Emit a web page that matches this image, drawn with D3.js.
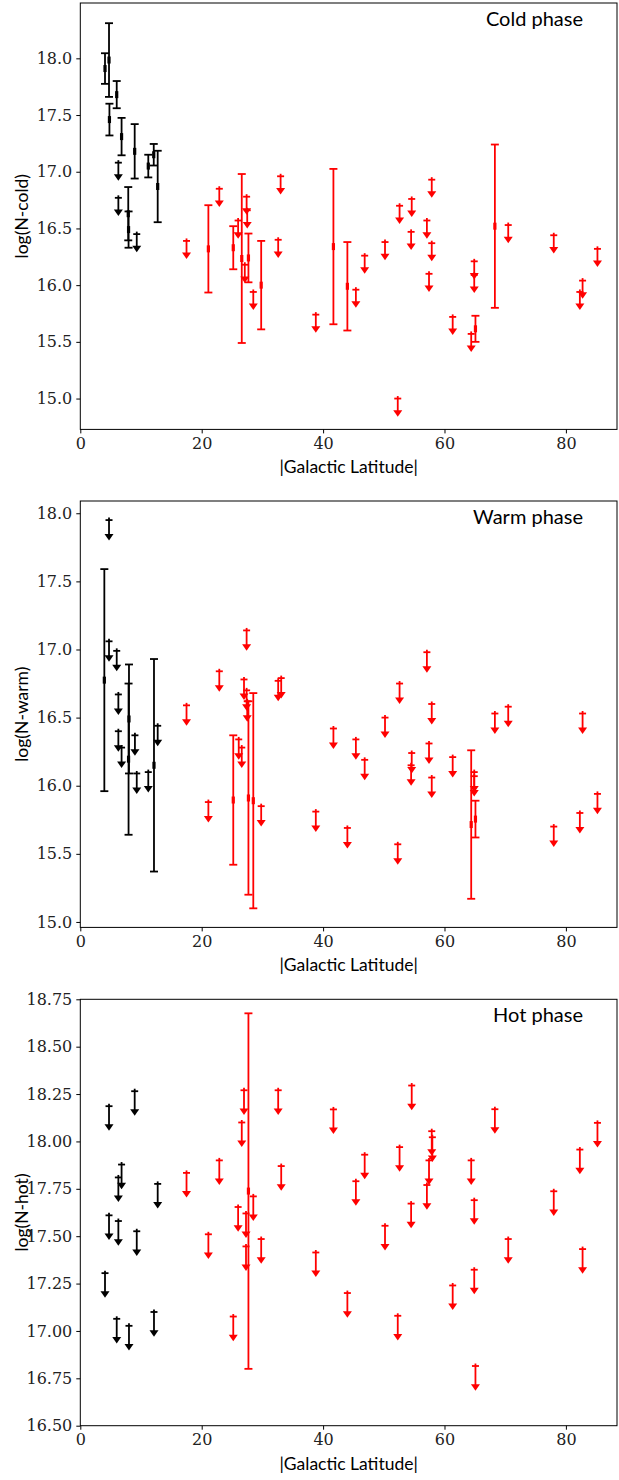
<!DOCTYPE html>
<html>
<head>
<meta charset="utf-8">
<script src="https://cdn.jsdelivr.net/npm/d3@7/dist/d3.min.js"></script>
<style>
body { margin: 0; background: #fff; }
.tick text { font-family: "DejaVu Serif", serif; font-size: 16px; fill: #222; }
.lab { font-family: Lato, "Open Sans", sans-serif; fill: #000; }
</style>
</head>
<body>
<div id="chart"></div>
<script>
// one row per sightline; err = half width of the error bar, null = upper limit
var coldLat = [4.07, 4.73, 4.8, 6.0, 6.27, 6.27, 6.8, 7.9, 7.95, 8.96, 9.3, 11.2, 12.1, 12.75,
    17.5, 21.1, 22.9, 25.2, 26.0, 26.6, 27.1, 27.4, 27.5, 27.7, 28.5, 29.8, 32.6, 33.0, 38.8,
    41.7, 44.0, 45.4, 46.85, 50.2, 52.3, 52.6, 54.5, 54.6, 57.1, 57.45, 57.9, 57.9, 61.35,
    64.4, 64.9, 64.9, 65.1, 68.3, 70.5, 78.0, 82.3, 82.75, 85.2];
var coldN = [17.91, 17.985, 17.46, 17.68, 17.08, 16.77, 17.31, 16.63, 16.49, 17.18, 16.45, 17.05, 17.15, 16.87,
    16.39, 16.32, 16.85, 16.33, 16.57, 16.235, 16.18, 16.78, 16.66, 16.24, 15.94, 16.0, 16.40, 16.96, 15.74,
    16.34, 15.99, 15.96, 16.26, 16.38, 15.0, 16.70, 16.47, 16.76, 16.57, 16.10, 16.93, 16.37, 15.72,
    15.57, 16.21, 16.09, 15.615, 16.52, 16.53, 16.44, 15.94, 16.04, 16.32];
var coldErr = [0.135, 0.325, 0.14, 0.12, null, null, 0.165, 0.235, 0.16, 0.24, null, 0.10, 0.095, 0.315,
    null, 0.385, null, 0.19, null, 0.745, null, null, null, 0.215, null, 0.39, null, null, null,
    0.685, 0.39, null, null, null, null, null, null, null, null, null, null, null, null,
    null, null, null, 0.115, 0.72, null, null, null, null, null];

var warmLat = [3.96, 4.73, 4.73, 6.0, 6.27, 6.27, 6.8, 8.02, 7.95, 9.0, 9.3, 11.2, 12.14, 12.75,
    17.5, 21.1, 22.9, 25.2, 26.1, 26.6, 26.97, 27.4, 27.4, 27.5, 27.7, 28.5, 29.8, 32.6, 33.1,
    38.8, 41.7, 44.0, 45.4, 46.85, 50.2, 52.3, 52.6, 54.5, 54.6, 57.1, 57.45, 57.9, 57.9,
    61.35, 64.4, 64.9, 64.9, 65.1, 68.3, 70.5, 78.0, 82.3, 82.75, 85.2];
var warmN = [16.775, 17.95, 17.06, 16.99, 16.67, 16.40, 16.28, 16.49, 16.195, 16.37, 16.09, 16.10, 16.15, 16.44,
    16.59, 15.88, 16.84, 15.895, 16.34, 16.28, 16.78, 17.14, 16.70, 16.62, 15.91, 15.89, 15.85, 16.77, 16.79,
    15.81, 16.42, 15.69, 16.34, 16.19, 16.50, 15.57, 16.75, 16.15, 16.24, 16.98, 16.31, 16.60, 16.06,
    16.21, 15.715, 16.10, 16.07, 15.755, 16.53, 16.58, 15.70, 15.80, 16.53, 15.94];
var warmErr = [0.815, null, null, null, null, null, null, 0.40, 0.555, null, null, null, 0.78, null,
    null, null, null, 0.475, null, null, null, null, null, null, 0.71, 0.79, null, null, null,
    null, null, null, null, null, null, null, null, null, null, null, null, null, null,
    null, 0.545, null, null, 0.135, null, null, null, null, null, null];

var hotLat = [4.07, 4.73, 4.73, 6.0, 6.27, 6.27, 6.8, 8.02, 8.96, 9.3, 12.14, 12.75,
    17.5, 21.1, 22.9, 25.2, 26.0, 26.6, 26.97, 27.3, 27.3, 27.7, 28.5, 29.8, 32.6, 33.1,
    38.8, 41.7, 44.0, 45.4, 46.85, 50.2, 52.3, 52.6, 54.5, 54.6, 57.1, 57.45, 57.9, 58.0,
    61.35, 64.4, 64.9, 64.9, 65.1, 68.3, 70.5, 78.0, 82.3, 82.75, 85.2];
var hotN = [17.305, 18.186, 17.61, 17.064, 17.81, 17.58, 17.878, 17.027, 18.265, 17.526, 17.10, 17.776,
    17.834, 17.51, 17.90, 17.076, 17.654, 18.10, 18.27, 17.62, 17.446, 17.738, 17.71, 17.485, 18.27, 17.87,
    17.414, 18.169, 17.20, 17.79, 17.93, 17.555, 17.08, 17.97, 17.672, 18.295, 17.77, 17.90, 18.054, 18.022,
    17.24, 17.90, 17.69, 17.323, 16.815, 18.17, 17.485, 17.737, 17.957, 17.432, 18.098];
var hotErr = [null, null, null, null, null, null, null, null, null, null, null, null,
    null, null, null, null, null, null, null, null, null, 0.938, null, null, null, null,
    null, null, null, null, null, null, null, null, null, null, null, null, null, null,
    null, null, null, null, null, null, null, null, null, null, null];

var xTicks = [0, 20, 40, 60, 80];
var coldTicks = [15.0, 15.5, 16.0, 16.5, 17.0, 17.5, 18.0];
var warmTicks = [15.0, 15.5, 16.0, 16.5, 17.0, 17.5, 18.0];
var hotTicks = [16.50, 16.75, 17.00, 17.25, 17.50, 17.75, 18.00, 18.25, 18.50, 18.75];

var panels = [
    {lat: coldLat, n: coldN, err: coldErr, ticks: coldTicks, fmt: '.1f', dom: [14.728, 18.488],
     top: 3, ylab: 'log(N-cold)', title: 'Cold phase', arrow: 0.16},
    {lat: warmLat, n: warmN, err: warmErr, ticks: warmTicks, fmt: '.1f', dom: [14.96, 18.09],
     top: 501, ylab: 'log(N-warm)', title: 'Warm phase', arrow: 0.15},
    {lat: hotLat, n: hotN, err: hotErr, ticks: hotTicks, fmt: '.2f', dom: [16.5, 18.75],
     top: 999.3, ylab: 'log(N-hot)', title: 'Hot phase', arrow: 0.13}
];

var W = 619, H = 1480;
var left = 80.3, right = 617, ph = 426.4;

var svg = d3.select('#chart').append('svg')
    .attr('width', W)
    .attr('height', H);

var x = d3.scaleLinear().domain([0, 88.42]).range([left, right]);

panels.forEach(function(p){
    var y = d3.scaleLinear().domain(p.dom).range([p.top + ph, p.top]);
    var g = svg.append('g');

    var rows = p.lat.map(function(d, i){
        return {lat: d, n: p.n[i], err: p.err[i]};
    });
    var col = function(d){ return d.lat < 15 ? '#000' : '#ff0000'; };

    // detections: error bar with caps and a small marker
    var bars = g.selectAll('.bar')
        .data(rows.filter(function(d){ return d.err !== null; }))
        .enter().append('g');
    bars.append('line')
        .attr('x1', function(d){ return x(d.lat); })
        .attr('x2', function(d){ return x(d.lat); })
        .attr('y1', function(d){ return y(d.n + d.err); })
        .attr('y2', function(d){ return y(d.n - d.err); })
        .style('stroke', col).style('stroke-width', 1.8);
    [1, -1].forEach(function(s){
        bars.append('line')
            .attr('x1', function(d){ return x(d.lat) - 4; })
            .attr('x2', function(d){ return x(d.lat) + 4; })
            .attr('y1', function(d){ return y(d.n + s * d.err); })
            .attr('y2', function(d){ return y(d.n + s * d.err); })
            .style('stroke', col).style('stroke-width', 1.8);
    });
    bars.append('rect')
        .attr('x', function(d){ return x(d.lat) - 1.6; })
        .attr('y', function(d){ return y(d.n) - 3.5; })
        .attr('width', 3.2).attr('height', 7)
        .style('fill', col);

    // upper limits: cap, stem and arrow head pointing down
    var lims = g.selectAll('.lim')
        .data(rows.filter(function(d){ return d.err === null; }))
        .enter().append('g');
    lims.append('line')
        .attr('x1', function(d){ return x(d.lat); })
        .attr('x2', function(d){ return x(d.lat); })
        .attr('y1', function(d){ return y(d.n) - 2.5; })
        .attr('y2', function(d){ return y(d.n - p.arrow) - 4; })
        .style('stroke', col).style('stroke-width', 1.8);
    lims.append('line')
        .attr('x1', function(d){ return x(d.lat) - 3.5; })
        .attr('x2', function(d){ return x(d.lat) + 3.5; })
        .attr('y1', function(d){ return y(d.n); })
        .attr('y2', function(d){ return y(d.n); })
        .style('stroke', col).style('stroke-width', 1.8);
    lims.append('path')
        .attr('d', function(d){
            var cx = x(d.lat), ty = y(d.n - p.arrow);
            return 'M' + (cx - 4.5) + ',' + (ty - 6.5) + 'L' + (cx + 4.5) + ',' + (ty - 6.5) + 'L' + cx + ',' + ty + 'Z';
        })
        .style('fill', col);

    // axes
    g.append('g')
        .attr('transform', 'translate(0,' + (p.top + ph) + ')')
        .call(d3.axisBottom(x).tickValues(xTicks).tickSize(4).tickSizeOuter(0).tickPadding(4))
        .call(function(a){ a.select('.domain').remove(); });
    g.append('g')
        .attr('transform', 'translate(' + left + ',0)')
        .call(d3.axisLeft(y).tickValues(p.ticks).tickFormat(d3.format(p.fmt)).tickSize(4).tickSizeOuter(0).tickPadding(4))
        .call(function(a){ a.select('.domain').remove(); });
    g.selectAll('.tick line').style('stroke', '#000');
    g.append('rect')
        .attr('x', left).attr('y', p.top)
        .attr('width', right - left).attr('height', ph)
        .style('fill', 'none').style('stroke', '#000').style('stroke-width', 1);

    // labels
    g.append('text').attr('class', 'lab')
        .attr('x', 583).attr('y', p.top + 23)
        .attr('text-anchor', 'end')
        .style('font-size', '20px')
        .text(p.title);
    g.append('text').attr('class', 'lab')
        .attr('transform', 'translate(28,' + (p.top + ph / 2) + ') rotate(-90)')
        .attr('text-anchor', 'middle')
        .style('font-size', '17.5px')
        .text(p.ylab);
    g.append('text').attr('class', 'lab')
        .attr('x', (left + right) / 2).attr('y', p.top + ph + 44)
        .attr('text-anchor', 'middle')
        .style('font-size', '17.5px')
        .text('|Galactic Latitude|');
});
</script>
</body>
</html>
